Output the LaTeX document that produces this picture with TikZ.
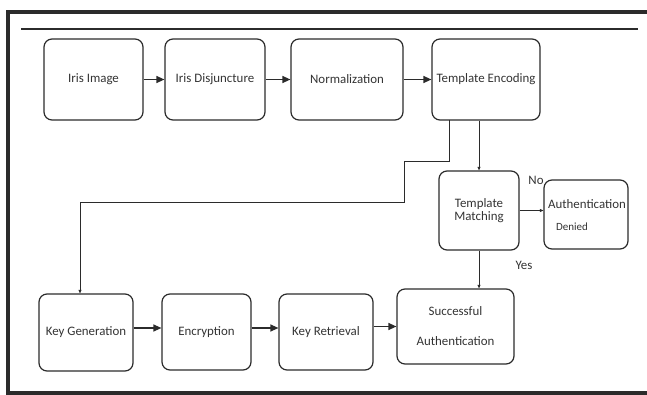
\documentclass[tikz,border=0pt]{standalone}
\usepackage{fontspec}
\setmainfont{Carlito}
\usetikzlibrary{arrows.meta}
\definecolor{ink}{HTML}{2B2B2B}
\definecolor{txt}{HTML}{333333}
\tikzset{
  box/.style={draw=ink, line width=1.2pt, rounded corners=8pt, inner sep=0pt,
              font=\fontsize{12.9}{14}\selectfont, text=txt, align=center},
  lbl/.style={inner sep=0pt, font=\fontsize{12.9}{14}\selectfont, text=txt},
  flow/.style={draw=ink, line width=1.2pt, -{Triangle[length=8pt,width=7pt]}},
  thin/.style={draw=ink, line width=0.9pt, -{Triangle[length=3.5pt,width=3pt]}},
  frame/.style={draw=ink, line width=3.5pt}
}
\begin{document}
\begin{tikzpicture}[x=1pt,y=-1pt]
\useasboundingbox (0,0) rectangle (647,395);
% frame
\draw[frame] (647,12) -- (8,12) -- (8,393) -- (647,393);
\draw[draw=ink, line width=1.6pt] (21,29) -- (638,29);
% top row
\node[box, minimum width=99pt, minimum height=81pt] (iris) at (93.5,79.5) {Iris Image};
\node[box, minimum width=100pt, minimum height=81pt] (disj) at (215,79.5) {Iris Disjuncture};
\node[box, minimum width=112pt, minimum height=81pt] (norm) at (347,79.5) {Normalization};
\node[box, minimum width=108pt, minimum height=81pt] (enc) at (486,79.5) {Template Encoding};
% middle
\node[box, minimum width=80pt, minimum height=79pt] (tm) at (479,210.5) {Template\\[-1pt]Matching};
\node[box, minimum width=84pt, minimum height=69pt] (ad) at (586,214.5) {};
\node[lbl] (adt) at (587,204) {Authentication};
\node[lbl, font=\fontsize{11}{13}\selectfont] (add) at (572,227) {Denied};
% bottom row
\node[box, minimum width=94pt, minimum height=77pt] (kg) at (86,332.5) {Key Generation};
\node[box, minimum width=89pt, minimum height=76pt] (encr) at (206.5,332) {Encryption};
\node[box, minimum width=94pt, minimum height=76pt] (kr) at (326,332) {Key Retrieval};
\node[box, minimum width=117pt, minimum height=75pt] (sa) at (455.5,326.5) {Successful\\[16pt]Authentication};
% labels
\node[lbl] (no) at (536,180) {No};
\node[lbl] (yes) at (524,265) {Yes};
% coordinates for the route
\coordinate (r0) at (449,120);
\coordinate (r1) at (449,161);
\coordinate (r2) at (404,161);
\coordinate (r3) at (404,202);
\coordinate (r4) at (80,202);
% connectors
\draw[flow] (iris) -- (disj);
\draw[flow] (disj) -- (norm);
\draw[flow] (norm) -- (enc);
\draw[thin] (tm.north |- enc.south) -- (tm.north);
\draw[thin] (r0) -- (r1) -- (r2) -- (r3) -- (r4) -- (r4 |- kg.north);
\draw[thin] (tm.east) -- (tm.east -| ad.west);
\draw[thin] (tm.south) -- (tm.south |- sa.north);
\draw[flow] (kg.east |- 0,328) -- (encr.west |- 0,328);
\draw[flow] (encr.east |- 0,328) -- (kr.west |- 0,328);
\draw[flow] (kr.east |- sa) -- (sa.west);
\end{tikzpicture}
\end{document}
